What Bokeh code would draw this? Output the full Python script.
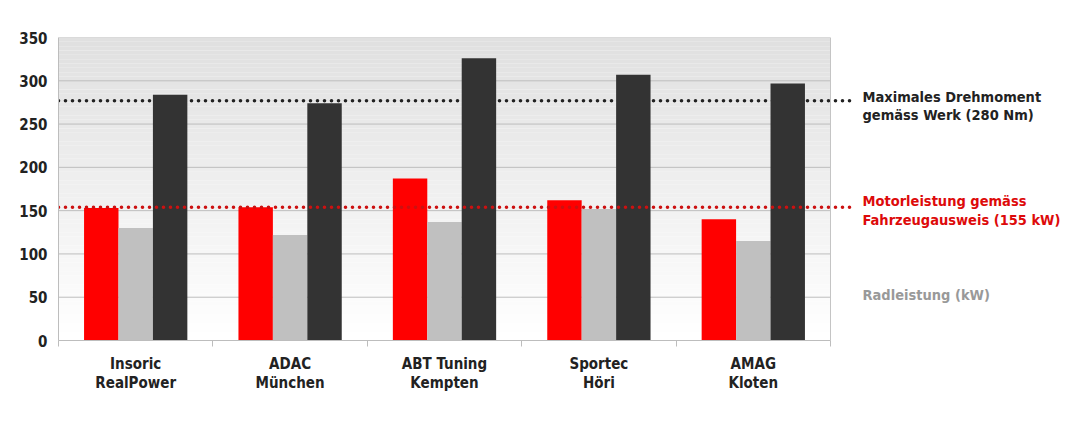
import numpy as np
from bokeh.plotting import figure
from bokeh.models import ColumnDataSource, FixedTicker, Range1d, Span
from bokeh.core.properties import value
from bokeh.embed import file_html
from bokeh.resources import INLINE

# ---- data ----
categories = ["Insoric\nRealPower", "ADAC\nMünchen", "ABT Tuning\nKempten", "Sportec\nHöri", "AMAG\nKloten"]
motorleistung = [153, 154, 187, 162, 140]      # red bars (kW)
radleistung = [130, 122, 137, 152, 115]        # gray bars (kW)
drehmoment = [284, 274, 326, 307, 297]         # dark bars (Nm)
ref_drehmoment = 277                           # black dotted line
ref_leistung = 154                             # red dotted line
y_ticks = [0, 50, 100, 150, 200, 250, 300, 350]
label_drehmoment = ["Maximales Drehmoment", "gemäss Werk (280 Nm)"]
label_leistung = ["Motorleistung gemäss", "Fahrzeugausweis (155 kW)"]
label_rad = ["Radleistung (kW)"]

# ---- layout constants ----
W, H = 1080, 430
LEFT, RIGHT, TOP, BOTTOM = 58, 3, 37, 90
n = len(categories)
frame_w = W - LEFT - RIGHT
cat_px = 772 / n
x_start = -0.5
x_end = x_start + frame_w / cat_px
bar_w = 0.223

RED, GRAY, DARK = "#ff0000", "#c0c0c0", "#333333"
TXT = "#222222"
COND = "DejaVu Sans Condensed"

p = figure(width=W, height=H, output_backend="svg", toolbar_location=None,
           x_range=Range1d(x_start, x_end), y_range=Range1d(0, 350),
           min_border_left=LEFT, min_border_right=RIGHT,
           min_border_top=TOP, min_border_bottom=BOTTOM)
p.outline_line_color = None
p.xgrid.grid_line_color = None
p.ygrid.grid_line_color = None
p.background_fill_color = "white"
p.border_fill_color = "white"

# gradient plot area background
edges = np.linspace(0, 350, 71)
shade = np.linspace(255, 224, 70).round().astype(int)
cols = ["#%02x%02x%02x" % (s, s, s) for s in shade]
p.quad(left=x_start, right=x_start + n, bottom=edges[:-1], top=edges[1:],
       fill_color=cols, line_color=None)

# gridlines
p.segment(x0=x_start, x1=x_start + n, y0=y_ticks, y1=y_ticks,
          line_color="#bdbdbd", line_width=1)
p.add_layout(Span(location=x_start + n, dimension="height",
                  line_color="#c4c4c4", line_width=1))

# black dotted line behind bars
line_end = x_start + (856 - 58) / cat_px
p.line(x=[x_start, line_end], y=[ref_drehmoment, ref_drehmoment],
       line_color="#222222", line_width=3.6, line_dash="0 7", line_cap="round")

idx = np.arange(n)
src = ColumnDataSource(dict(x_r=idx - bar_w, x_g=idx * 1.0, x_d=idx + bar_w,
                            r=motorleistung, g=radleistung, d=drehmoment))
p.vbar(x="x_r", top="r", width=bar_w, source=src, fill_color=RED, line_color=None)
p.vbar(x="x_g", top="g", width=bar_w, source=src, fill_color=GRAY, line_color=None)
p.vbar(x="x_d", top="d", width=bar_w, source=src, fill_color=DARK, line_color=None)

# red dotted line over bars
p.line(x=[x_start, line_end], y=[ref_leistung, ref_leistung],
       line_color="#cc1111", line_width=3.6, line_dash="0 7", line_cap="round")

# right-hand annotations
tx = x_start + (862 - 58) / cat_px
def add_text(lines, yval, offs, color):
    p.text(x=[tx] * len(lines), y=[yval] * len(lines), text=lines,
           y_offset=offs, text_color=color, text_font=value("DejaVu Sans Condensed"),
           text_font_style="bold", text_font_size="14.5px",
           text_baseline="alphabetic", text_align="left")

add_text(label_drehmoment, ref_drehmoment, [-3.5, 14.5], TXT)
add_text(label_leistung, ref_leistung, [-6, 12.5], "#dd0a0a")
add_text(label_rad, 50, [-2.5], "#999999")

# axes
p.yaxis.ticker = FixedTicker(ticks=y_ticks)
p.yaxis.axis_line_color = "#bdbdbd"
p.yaxis.major_tick_line_color = None
p.yaxis.minor_tick_line_color = None
p.yaxis.major_tick_out = 0
p.yaxis.major_tick_in = 0
p.yaxis.major_label_standoff = 11
p.yaxis.major_label_text_font = "DejaVu Sans Condensed"
p.yaxis.major_label_text_font_style = "bold"
p.yaxis.major_label_text_font_size = "15px"
p.yaxis.major_label_text_color = TXT

p.xaxis.ticker = FixedTicker(ticks=list(range(n)),
                             minor_ticks=[x_start + i for i in range(n + 1)])
p.xaxis.bounds = (x_start, x_start + n)
p.xaxis.axis_line_color = "#bdbdbd"
p.xaxis.major_tick_line_color = None
p.xaxis.minor_tick_line_color = "#bdbdbd"
p.xaxis.minor_tick_out = 6
p.xaxis.minor_tick_in = 0
p.xaxis.major_tick_out = 0
p.xaxis.major_tick_in = 0
p.xaxis.major_label_overrides = {i: c for i, c in enumerate(categories)}
p.xaxis.major_label_standoff = 8
p.xaxis.major_label_text_font = COND
p.xaxis.major_label_text_font_style = "bold"
p.xaxis.major_label_text_font_size = "15px"
p.xaxis.major_label_text_color = TXT
p.xaxis.major_label_text_line_height = 1.08

open("out.html", "w").write(file_html(p, INLINE))
